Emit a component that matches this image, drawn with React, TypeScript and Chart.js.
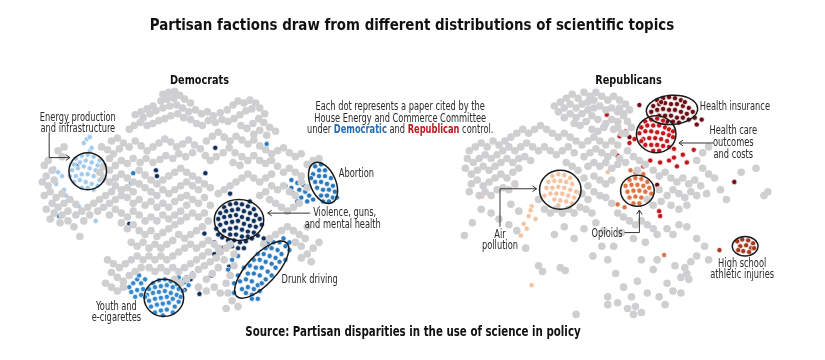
import React, { useEffect, useRef } from "react";
import { Chart, registerables } from "chart.js";
Chart.register(...registerables);

type P = [number, number];

// t-SNE style embedding coordinates (map units)
const demGray: P[] = [
[160,92],[166,90],[172,89],[177,93],[171,96],[164,97],[158,99],[182,97],[188,101],[150,104],[144,107],[138,110],[132,113],[140,116],[147,112],[153,109],[160,106],[167,104],[174,103],[180,106],[186,110],[193,108],[199,112],[205,110],[211,114],[218,111],[225,108],[231,103],[236,99],[242,101],[248,98],[254,101],[250,107],[244,109],[238,113],[232,117],[226,120],[220,118],[213,121],[206,119],[200,124],[194,122],[188,118],[181,116],[175,112],[168,114],[162,117],[156,119],[150,122],[144,124],[137,121],[131,124],[126,128],[258,106],[263,112],[257,117],[251,122],[245,127],[239,124],[262,121],[268,126],[274,130],[265,134],[258,129],[252,133],
[108,140],[114,137],[120,142],[126,146],[116,148],[110,153],[104,149],[98,146],[132,140],[138,145],[144,150],[150,146],[156,142],[162,138],[168,141],[174,146],[180,143],[186,139],[192,144],[198,148],[190,152],[183,156],[176,153],[170,158],[163,155],[157,159],[150,162],[143,158],[137,162],[130,158],[124,163],[118,160],[112,165],[106,170],[100,166],[96,172],[204,140],[210,135],[216,131],[222,136],[228,140],[234,135],[240,139],[246,143],[252,139],[258,145],[264,149],[270,153],[276,150],[282,147],[288,152],[294,156],[300,153],[227,147],[221,152],[214,156],[208,160],[203,155],[233,152],[240,156],[246,160],[252,155],[258,160],[264,163],[270,160],[238,165],[231,162],
[40,165],[44,160],[48,170],[42,176],[38,182],[44,186],[50,180],[46,192],[40,196],[52,198],[58,194],[48,204],[42,210],[54,208],[60,204],[66,200],[72,205],[64,212],[58,216],[50,214],[46,220],[56,224],[64,222],[72,216],[78,212],[84,208],[90,204],[96,200],[102,196],[108,192],[80,222],[70,228],[76,238],[86,216],[94,212],[100,208],[106,204],[112,200],[118,196],[106,182],[112,178],[118,174],[124,178],[130,182],[124,188],[118,190],[112,186],[58,156],[54,150],[60,146],[106,158],[100,178],
[136,170],[142,175],[148,180],[154,184],[160,180],[166,176],[172,172],[178,168],[184,172],[190,176],[196,180],[202,184],[208,188],[196,190],[190,186],[184,182],[178,186],[172,190],[166,194],[160,190],[154,196],[148,192],[142,188],[136,184],[130,192],[124,198],[130,204],[136,200],[142,206],[148,202],[154,208],[160,204],[166,208],[172,202],[178,198],[184,196],[190,200],[196,204],[202,198],[208,206],[184,206],[178,212],[172,216],[166,220],[160,216],[154,222],[148,218],[142,222],[136,216],[130,212],[124,218],[118,214],[112,210],[106,216],[118,224],[124,230],[130,226],[136,232],[142,236],[148,232],[154,238],[160,234],[166,230],[172,226],[178,222],[184,218],[190,214],[196,218],[202,214],[206,222],[200,228],[194,232],[188,236],[182,240],[176,236],[170,242],[164,246],[158,250],[152,246],[146,250],[140,244],[134,248],[128,244],
[104,262],[110,266],[116,270],[122,266],[128,262],[134,258],[108,275],[114,280],[120,284],[126,278],[132,274],[138,270],[102,286],[108,290],[114,294],[120,290],[140,262],[146,258],[152,262],[158,258],[164,262],[170,258],[176,254],[182,250],[188,246],[194,250],[200,246],[206,242],[212,246],[206,254],[200,258],[194,262],[188,266],[182,270],[176,274],[170,270],[164,274],[158,270],[152,274],[146,270],[196,272],[202,268],[208,264],[214,260],[218,254],[224,250],[222,262],[216,270],[210,276],[204,282],[190,278],[184,282],[178,286],[172,282],[196,290],[204,294],[212,290],[218,296],[224,286],[228,278],[232,268],
[276,166],[282,172],[288,168],[294,172],[300,176],[270,174],[264,178],[258,182],[252,178],[246,174],[240,178],[234,182],[228,186],[222,190],[216,194],[270,186],[276,190],[282,186],[288,192],[294,196],[264,192],[258,196],[268,200],[274,204],[280,208],[286,212],[292,208],[298,204],[262,246],[268,240],[274,236],[280,232],[286,228],[292,232],[298,236],[304,240],[300,248],[294,244],[306,228],[216,250],[228,246],[232,256],[226,296],[230,304],[236,310],[224,312],[300,260],[306,256],[312,250],[318,244],[310,264],[306,164],[312,160],[318,158],[300,182],[306,188]
];

const repGray: P[] = [
[556,104],[562,100],[568,96],[574,92],[580,96],[586,90],[592,94],[598,90],[604,94],[610,98],[616,94],[622,98],[628,102],[560,110],[566,106],[572,102],[578,106],[584,102],[590,100],[596,98],[566,116],[572,112],[578,116],[584,112],[590,108],[596,106],[602,104],[608,108],[614,106],[620,110],[626,114],[620,120],[614,118],[608,122],[600,118],[594,114],[588,120],[582,124],[576,122],[594,128],[600,130],[606,126],[630,120],[634,126],[628,132],[622,106],[626,112],[632,108],[620,126],[624,132],[616,128],
[470,150],[476,146],[482,142],[488,146],[494,140],[500,144],[506,140],[512,136],[518,132],[524,128],[530,132],[536,128],[542,124],[548,128],[554,132],[560,136],[566,132],[572,136],[578,140],[584,144],[590,140],[596,136],[602,140],[608,144],[614,140],[620,144],[468,158],[474,162],[480,158],[486,154],[492,158],[498,154],[504,150],[510,146],[516,150],[522,146],[528,142],[534,146],[540,150],[546,146],[552,150],[558,154],[564,150],[570,146],[576,152],[466,168],[472,174],[478,170],[484,166],[490,170],[496,166],[502,162],[508,158],[514,162],[520,158],[526,156],[532,160],[472,184],[478,180],[484,186],[490,182],[496,178],[502,174],[508,178],[514,172],[520,168],[480,196],[486,192],[492,196],[498,190],[504,188],[470,192],[510,190],[516,184],
[586,156],[592,152],[598,148],[604,152],[610,156],[616,152],[622,158],[628,162],[590,166],[596,162],[602,166],[608,162],[614,168],[620,164],[596,176],[602,180],[608,184],[614,180],[590,186],[596,192],[602,196],[608,198],[614,204],[590,200],[584,194],[546,210],[552,214],[558,210],[564,214],[570,210],[576,214],[582,208],[588,210],[594,214],[540,200],[586,178],[580,170],[574,166],[568,162],
[630,150],[636,156],[642,160],[648,164],[640,170],[656,170],[662,176],[668,172],[674,178],[680,182],[686,178],[692,184],[698,180],[704,186],[676,190],[682,194],[688,198],[694,192],[700,196],[670,196],[664,202],[674,206],[682,210],[690,206],[706,168],[712,174],[718,178],[710,194],[730,200],[745,172],[760,168],[772,192],[768,196],[724,190],[700,160],[706,152],[712,146],[650,200],[656,206],[662,190],
[620,214],[626,218],[632,222],[638,226],[644,222],[650,226],[656,230],[624,234],[636,240],[648,244],[660,236],[670,230],[676,236],[682,226],[690,228],[700,240],[708,248],[712,262],[700,258],[694,264],[688,270],[690,276],[684,280],[692,282],[678,268],[670,286],[676,294],[684,296],[660,262],[656,272],[644,262],[640,284],[650,296],[634,300],[638,310],[644,316],[636,318],[630,312],[668,308],[662,300],[616,248],[610,262],[618,276],[626,290],[610,300],[620,306],
[465,237],[473,224],[482,210],[492,214],[500,220],[510,226],[518,232],[527,250],[540,268],[544,274],[562,270],[567,273],[556,236],[566,228],[576,240],[586,230],[595,258],[604,248],[610,308],[578,318],[598,224],[606,232],[520,212],[512,205]
];

const demEnergy: P[] = [
[72,158],[78,155],[84,154],[90,156],[96,160],[70,164],[76,162],[82,160],[88,162],[94,165],[99,168],[68,170],[74,168],[80,166],[86,168],[92,170],[98,174],[72,176],[78,174],[84,174],[90,176],[96,180],[70,182],[76,180],[82,182],[88,184],[94,186],[78,188],[84,188],[90,190],[66,176],[100,180],[86,150],[80,142],[83,138],[86,136],[50,168],[54,172],[58,176],[52,184],[60,190],[62,196],[75,207],[92,222],[88,147]
];
const demBlueScatter: P[] = [[130,173],[128,183],[265,143],[55,217]];
const demNavyScatter: P[] = [[73,165],[213,147],[153,170],[154,176],[203,173],[126,225],[202,235],[213,247],[227,269],[209,278],[197,297],[182,293],[182,282],[188,282],[268,160],[290,192],[228,194]];
const demViolence: P[] = [
[222,208],[228,205],[234,204],[240,205],[246,207],[252,210],[218,214],[224,212],[230,211],[236,210],[242,212],[248,214],[254,216],[258,220],[216,220],[222,218],[228,217],[234,216],[240,218],[246,220],[252,222],[218,226],[224,224],[230,223],[236,222],[242,225],[248,227],[254,228],[222,232],[228,230],[234,229],[240,231],[246,233],[252,234],[228,236],[234,236],[240,238],[246,238],[226,242],[232,242],[238,244],[220,239],[212,244],[244,243],[250,240],[256,237],[216,236],[214,230],[260,226],[248,202],[220,250],[212,256],[230,248],[236,250],[262,240],[266,248],[242,250]
];
const demDrunk: P[] = [
[240,292],[246,290],[244,296],[250,298],[238,284],[244,282],[250,284],[256,288],[252,292],[258,294],[246,276],[252,276],[258,278],[264,282],[260,286],[242,270],[248,268],[254,270],[260,270],[266,274],[270,278],[252,262],[258,262],[264,264],[270,266],[274,270],[256,256],[262,256],[268,258],[274,260],[278,264],[264,250],[270,250],[276,252],[280,256],[272,244],[278,244],[284,248],[282,240],[288,252],[236,278],[232,286],[230,262],[236,258],[226,272],[250,302],[256,302],[288,244],[284,262],[266,244],[232,296]
];
const demAbortion: P[] = [
[314,166],[320,164],[318,170],[324,170],[312,174],[318,176],[324,176],[330,178],[314,182],[320,182],[326,184],[332,186],[316,188],[322,190],[328,190],[334,192],[320,196],[326,196],[332,198],[310,178],[328,202],[336,198],[322,202],[290,180],[296,183],[302,185],[298,190],[304,192],[292,194],[300,198],[308,196],[306,202],[296,202],[312,200],[290,188],[284,186]
];
const demYouth: P[] = [
[150,286],[156,283],[162,282],[168,284],[174,287],[146,292],[152,290],[158,289],[164,288],[170,290],[176,292],[144,298],[150,296],[156,295],[162,294],[168,296],[174,298],[178,300],[146,304],[152,302],[158,301],[164,300],[170,302],[176,305],[148,310],[154,308],[160,307],[166,306],[172,310],[152,316],[158,314],[164,313],[170,316],[160,319],[142,300],[180,294],[126,290],[130,286],[134,282],[138,286],[128,295],[134,293],[138,298],[132,300],[140,292],[136,278],[142,282],[182,285],[186,288],[184,280],[190,276],[176,280]
];

const repInsurance: P[] = [
[660,98],[666,96],[672,95],[678,96],[684,98],[656,104],[662,102],[668,101],[674,102],[680,102],[686,104],[692,106],[654,110],[660,108],[666,107],[672,108],[678,108],[684,110],[690,112],[696,110],[662,114],[668,114],[674,114],[680,116],[686,116],[692,118],[670,120],[676,120],[682,121],[664,100],[688,100],[698,116],[642,103],[700,123],[705,118],[660,185],[738,182],[632,136]
];
const repHealthCare: P[] = [
[648,120],[654,118],[660,117],[666,119],[644,126],[650,124],[656,124],[662,124],[668,126],[672,128],[642,132],[648,130],[654,130],[660,131],[666,132],[672,134],[676,136],[646,138],[652,137],[658,137],[664,138],[670,140],[648,144],[654,144],[660,144],[666,145],[672,146],[656,150],[662,150],[644,140],[676,130],[628,130],[632,142],[637,138],[620,155],[589,119],[609,113],[622,135],[663,162],[672,160],[677,148],[697,149],[677,157],[653,160],[686,154],[690,162],[662,212],[663,217],[646,166],[680,166]
];
const repOpioids: P[] = [
[632,180],[638,178],[644,179],[650,182],[628,186],[634,185],[640,185],[646,186],[652,188],[630,192],[636,191],[642,191],[648,192],[654,194],[632,198],[638,197],[644,198],[650,199],[636,204],[642,204],[646,174],[638,172],[667,257],[633,170],[620,205],[627,208]
];
const repHighSchool: P[] = [[741,243],[746,241],[752,242],[757,245],[744,248],[750,247],[755,250],[747,253],[753,254],[742,252],[758,250],[723,252]];
const repAir: P[] = [
[554,176],[560,174],[566,175],[572,178],[550,182],[556,181],[562,181],[568,182],[574,184],[548,188],[554,188],[560,187],[566,188],[572,190],[578,192],[552,194],[558,194],[564,194],[570,196],[576,198],[556,200],[562,201],[568,202],[574,204],[560,206],[546,196],[533,207],[530,217],[537,220],[525,225],[528,230],[517,186],[483,197],[532,211],[522,237],[533,288],[603,150],[610,172]
];

const TITLE = "Partisan factions draw from different distributions of scientific topics";
const SOURCE = "Source: Partisan disparities in the use of science in policy";

const FONT = "'DejaVu Sans Condensed', 'Roboto', sans-serif";

const ELLIPSES = [
  { cx: 84, cy: 171, rx: 19, ry: 19, rot: 0 },
  { cx: 237, cy: 221, rx: 25, ry: 21, rot: 0 },
  { cx: 260, cy: 272, rx: 37, ry: 15, rot: -47 },
  { cx: 322, cy: 183, rx: 22, ry: 13, rot: 66 },
  { cx: 161, cy: 301, rx: 20, ry: 19, rot: 0 },
  { cx: 675, cy: 108, rx: 26, ry: 15, rot: -4 },
  { cx: 659, cy: 133, rx: 20, ry: 19, rot: 0 },
  { cx: 640, cy: 191, rx: 17, ry: 16, rot: 0 },
  { cx: 749, cy: 248, rx: 13, ry: 10, rot: 0 },
  { cx: 562, cy: 190, rx: 21, ry: 20, rot: 0 },
];

const ARROWS: P[][] = [
  [[45, 131], [45, 157], [66, 157]],
  [[309, 214], [266, 214]],
  [[717, 142], [682, 142]],
  [[627, 234], [642, 234], [642, 211]],
  [[501, 228], [501, 189], [538, 189]],
];

const LABELS: { t: string; x: number; y: number; a: CanvasTextAlign; b?: boolean; s?: number; k?: number }[] = [
  { t: "Democrats", x: 197, y: 78, a: "center", b: true, s: 13, k: 0.83 },
  { t: "Republicans", x: 631, y: 78, a: "center", b: true, s: 13, k: 0.83 },
  { t: "Energy production", x: 74, y: 116, a: "center" },
  { t: "and infrastructure", x: 74, y: 128, a: "center" },
  { t: "Abortion", x: 338, y: 174, a: "left" },
  { t: "Violence, guns,", x: 312, y: 214, a: "left" },
  { t: "and mental health", x: 342, y: 226, a: "center" },
  { t: "Drunk driving", x: 280, y: 283, a: "left" },
  { t: "Youth and", x: 113, y: 310, a: "center" },
  { t: "e-cigarettes", x: 113, y: 322, a: "center" },
  { t: "Each dot represents a paper cited by the", x: 400, y: 105, a: "center" },
  { t: "House Energy and Commerce Committee", x: 400, y: 117, a: "center" },
  { t: "Health insurance", x: 703, y: 105, a: "left" },
  { t: "Health care", x: 737, y: 130, a: "center" },
  { t: "outcomes", x: 737, y: 142, a: "center" },
  { t: "and costs", x: 737, y: 154, a: "center" },
  { t: "Opioids", x: 625, y: 235, a: "right" },
  { t: "Air", x: 501, y: 236, a: "center" },
  { t: "pollution", x: 501, y: 248, a: "center" },
  { t: "High school", x: 746, y: 266, a: "center" },
  { t: "athletic injuries", x: 746, y: 278, a: "center" },
];

function drawText(ctx: CanvasRenderingContext2D, t: string, x: number, y: number, a: CanvasTextAlign, font: string, k: number, color: string) {
  ctx.save();
  ctx.translate(x, y);
  ctx.scale(k, 1);
  ctx.font = font;
  ctx.textAlign = a;
  ctx.textBaseline = "middle";
  ctx.fillStyle = color;
  ctx.fillText(t, 0, 0);
  ctx.restore();
}

const overlay = {
  id: "overlay",
  afterDatasetsDraw(chart: any) {
    const ctx: CanvasRenderingContext2D = chart.ctx;
    const xs = chart.scales.x, ys = chart.scales.y;
    const px = (v: number) => xs.getPixelForValue(v);
    const py = (v: number) => ys.getPixelForValue(v);
    ctx.save();
    ctx.strokeStyle = "#1a1a1a";
    ctx.lineWidth = 1.5;
    for (const e of ELLIPSES) {
      ctx.beginPath();
      ctx.ellipse(px(e.cx), py(e.cy), Math.abs(px(e.cx + e.rx) - px(e.cx)), Math.abs(py(e.cy + e.ry) - py(e.cy)), (e.rot * Math.PI) / 180, 0, Math.PI * 2);
      ctx.stroke();
    }
    ctx.lineWidth = 1;
    ctx.strokeStyle = "#333";
    for (const a of ARROWS) {
      ctx.beginPath();
      a.forEach((p, i) => (i ? ctx.lineTo(px(p[0]), py(p[1])) : ctx.moveTo(px(p[0]), py(p[1]))));
      ctx.stroke();
      const [x1, y1] = a[a.length - 2], [x2, y2] = a[a.length - 1];
      const ang = Math.atan2(py(y2) - py(y1), px(x2) - px(x1));
      const L = 5;
      ctx.beginPath();
      ctx.moveTo(px(x2) - L * Math.cos(ang - 0.6), py(y2) - L * Math.sin(ang - 0.6));
      ctx.lineTo(px(x2), py(y2));
      ctx.lineTo(px(x2) - L * Math.cos(ang + 0.6), py(y2) - L * Math.sin(ang + 0.6));
      ctx.stroke();
    }
    const K = 0.8;
    for (const l of LABELS) {
      drawText(ctx, l.t, px(l.x), py(l.y), l.a, `${l.b ? "bold " : ""}${l.s || 11.5}px ${FONT}`, l.k || K, l.b ? "#111" : "#2a2a2a");
    }
    // mixed colour line
    const parts: [string, string, boolean][] = [
      ["under ", "#2a2a2a", false],
      ["Democratic", "#1f6fb8", true],
      [" and ", "#2a2a2a", false],
      ["Republican", "#c0161d", true],
      [" control.", "#2a2a2a", false],
    ];
    let total = 0;
    for (const [t, , b] of parts) { ctx.font = `${b ? "bold " : ""}11.5px ${FONT}`; total += ctx.measureText(t).width * K; }
    let x = px(400) - total / 2;
    for (const [t, c, b] of parts) {
      const f = `${b ? "bold " : ""}11.5px ${FONT}`;
      drawText(ctx, t, x, py(129), "left", f, K, c);
      ctx.font = f;
      x += ctx.measureText(t).width * K;
    }
    drawText(ctx, TITLE, px(412), py(22), "center", `bold 16px ${FONT}`, 0.93, "#111");
    drawText(ctx, SOURCE, px(413), py(337), "center", `bold 13.5px ${FONT}`, 0.845, "#111");
    ctx.restore();
  },
};

const toXY = (a: P[]) => a.map(([x, y]) => ({ x, y }));

export default function App() {
  const ref = useRef<HTMLCanvasElement>(null);
  useEffect(() => {
    document.body.style.margin = "0";
    const gray = (d: P[]) => ({ data: toXY(d), pointRadius: 3.8, pointBackgroundColor: "#cfcfd1", pointBorderWidth: 0, pointBorderColor: "#cfcfd1" });
    const col = (d: P[], c: string) => ({ data: toXY(d), pointRadius: 2.6, pointBackgroundColor: c, pointBorderColor: "#ffffff", pointBorderWidth: 0.7 });
    const chart = new Chart(ref.current!, {
      type: "scatter",
      data: {
        datasets: [
          gray(demGray), gray(repGray),
          col(demEnergy, "#a3caeb"), col(demBlueScatter, "#2a7cc2"), col(demYouth, "#3487cc"),
          col(demDrunk, "#2b7cc1"), col(demAbortion, "#2a78bc"), col(demViolence, "#0e2e5c"), col(demNavyScatter, "#0e2e5c"),
          col(repAir, "#f3c2a0"), col(repOpioids, "#de7441"), col(repHealthCare, "#c4161c"), col(repInsurance, "#6c0e13"), col(repHighSchool, "#a53a1f"),
        ] as any,
      },
      options: {
        animation: false,
        responsive: false,
        layout: { padding: 0 },
        plugins: { legend: { display: false }, tooltip: { enabled: false }, title: { display: false } },
        scales: {
          x: { type: "linear", min: 0, max: 825, display: false },
          y: { type: "linear", min: 0, max: 360, reverse: true, display: false },
        },
      },
      plugins: [overlay],
    });
    return () => chart.destroy();
  }, []);
  return (
    <div style={{ width: 825, height: 360, background: "#fff" }}>
      <canvas ref={ref} width={825} height={360} />
    </div>
  );
}
